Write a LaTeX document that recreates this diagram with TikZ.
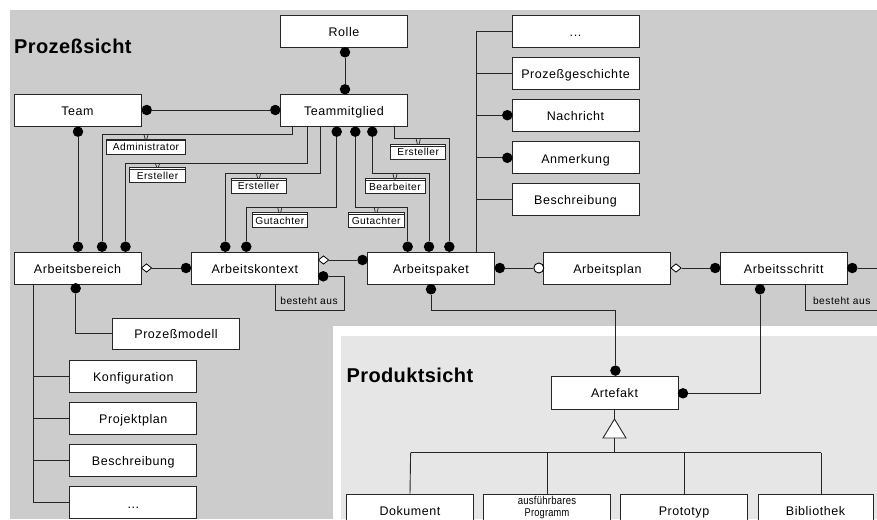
\documentclass[tikz,border=0pt]{standalone}
\usepackage{fontspec}
\usepackage{graphicx}
\setmainfont{Liberation Sans}
\newfontfamily\bxfam[LetterSpace=4.5]{Liberation Sans}
\newfontfamily\lbfam[LetterSpace=5]{Liberation Sans}
\newfontfamily\smfam[LetterSpace=2]{Liberation Sans}
\newfontfamily\ttlfam[LetterSpace=2]{Liberation Sans}
\newcommand\bxfont{\bxfam\fontsize{12.5}{14}\selectfont}
\newcommand\lbfont{\lbfam\fontsize{10.2}{12}\selectfont}
\newcommand\smfont{\smfam\fontsize{11.3}{13}\selectfont}
\newcommand\ttlfont{\ttlfam\bfseries\fontsize{20}{24}\selectfont}
\usetikzlibrary{shapes.geometric}
\definecolor{bgA}{HTML}{CCCCCC}
\definecolor{bgB}{HTML}{E6E6E6}
\newcommand\mklab[6]{%
  \node[lab, minimum width=#4] (#1) at (#2,#3) {#5};
  \draw[line width=0.6pt, black!85] ([yshift=-2pt]#1.north west) -- ([yshift=-2pt]#1.north east);
  \draw[mk] ({#2-2.2},{#6}) -- ({#2-0.8},{#3-7.3}) -- ({#2+0.8},{#3-7.3}) -- ({#2+2.2},{#6});
}
\begin{document}
\begin{tikzpicture}[x=1pt,y=-1pt,
  box/.style={draw=black!85, fill=white, line width=0.9pt, minimum width=127pt, minimum height=32pt, inner sep=0pt, text height=11.6pt, text depth=1pt, font=\bxfont},
  dot/.style={circle, fill=black, inner sep=0pt, minimum size=10.5pt},
  odot/.style={circle, draw=black, fill=white, line width=0.9pt, inner sep=0pt, minimum size=10pt},
  dia/.style={diamond, draw=black, fill=white, line width=0.8pt, inner sep=0pt, minimum width=10.5pt, minimum height=8.5pt},
  rel/.style={draw=black!85, line width=0.9pt},
  lab/.style={draw=black!85, fill=white, line width=0.8pt, inner sep=0pt, minimum height=15pt, text height=9.4pt, text depth=1pt, font=\lbfont},
  mk/.style={draw=black!85, line width=0.7pt},
  note/.style={font=\lbfont, inner sep=0pt, anchor=base}
]
\useasboundingbox (0,0) rectangle (877,519);
\clip (0,0) rectangle (877,519);
% backgrounds
\fill[white] (0,0) rectangle (877,519);
\fill[bgA] (10,10) rectangle (877,519);
\fill[white] (333,326) rectangle (877,519);
\fill[bgB] (341,336) rectangle (877,519);

% titles
\node[font=\ttlfont, anchor=base west, inner sep=0pt] (t1) at (14,53.3) {Prozeßsicht};
\node[font=\ttlfont, anchor=base west, inner sep=0pt] (t2) at (346.4,382.8) {Produktsicht};

% boxes
\node[box] (rolle) at (344,31.5) {Rolle};
\node[box] (tm) at (344,110) {Teammitglied};
\node[box] (team) at (77.5,110) {Team};
\node[box] (more1) at (575.5,31.3) {...};
\node[box] (pg) at (575.5,73.5) {Prozeßgeschichte};
\node[box] (nach) at (575.5,115.2) {Nachricht};
\node[box] (anm) at (575.5,157.8) {Anmerkung};
\node[box] (beschr1) at (575.5,199.5) {Beschreibung};
\node[box] (ab) at (77.5,268) {Arbeitsbereich};
\node[box] (ak) at (254.8,268) {Arbeitskontext};
\node[box] (ap) at (431,268) {Arbeitspaket};
\node[box] (apl) at (607.4,268) {Arbeitsplan};
\node[box] (as) at (783.7,268) {Arbeitsschritt};
\node[box, minimum height=31pt] (pm) at (176,333.5) {Prozeßmodell};
\node[box] (konf) at (133.3,376.3) {Konfiguration};
\node[box] (pp) at (133.3,418.3) {Projektplan};
\node[box] (beschr2) at (133.3,460.3) {Beschreibung};
\node[box] (more2) at (133.3,502.7) {...};
\node[box, minimum height=33pt] (art) at (614.5,392.5) {Artefakt};
\node[box, minimum height=33pt] (dok) at (410,510.5) {Dokument};
\node[box, minimum height=33pt] (ausf) at (547,510.5) {};
\node[font=\smfont, anchor=base, inner sep=0pt] (ausf1) at (547,504) {\scalebox{0.85}[1]{ausführbares}};
\node[font=\smfont, anchor=base, inner sep=0pt] (ausf2) at (547,516.2) {\scalebox{0.82}[1]{Programm}};
\node[box, minimum height=33pt] (proto) at (684,510.5) {Prototyp};
\node[box, minimum height=33pt, minimum width=115pt] (bib) at (815.5,510.5) {Bibliothek};

% dots
\node[dot] (dTeamE) at (146.7,110) {};
\node[dot] (dTmW) at (275.3,110) {};
\node[dot] (dRolleS) at (345,52.3) {};
\node[dot] (dTmN) at (345,89.3) {};
\node[dot] (dTeamS) at (78,131.7) {};
\node[dot] (dAb1) at (78,246.7) {};
\node[dot] (dAb2) at (102,246.7) {};
\node[dot] (dAb3) at (125.5,246.7) {};
\node[dot] (dAk1) at (225.3,246.7) {};
\node[dot] (dAk2) at (246.3,246.7) {};
\node[dot] (dTm1) at (336.7,131.7) {};
\node[dot] (dTm2) at (355.3,131.7) {};
\node[dot] (dTm3) at (372.3,131.7) {};
\node[dot] (dAp1) at (407.7,246.7) {};
\node[dot] (dAp2) at (429,246.7) {};
\node[dot] (dAp3) at (449.3,246.7) {};
\node[dot] (dNach) at (507.3,115.2) {};
\node[dot] (dAnm) at (507.3,157.8) {};
\node[dot] (dAkW) at (186,268) {};
\node[dot] (dApW) at (362.5,260) {};
\node[dot] (dAkLoop) at (323.3,276.3) {};
\node[dot] (dApE) at (499.8,268) {};
\node[odot] (oAplW) at (538.8,268) {};
\node[dot] (dAsW) at (715.2,268) {};
\node[dot] (dAsE) at (852.3,268) {};
\node[dot] (dApS) at (431,289.3) {};
\node[dot] (dArtN) at (615.4,370.6) {};
\node[dot] (dAsS) at (760,289.3) {};
\node[dot] (dArtE) at (683,393.3) {};
\node[dot] (dAbS) at (75.7,288.3) {};
\node[dia] (dmAb) at (146.5,268) {};
\node[dia] (dmAk) at (323.5,260) {};
\node[dia] (dmApl) at (676,268) {};

% coordinates
\coordinate (c1) at (292,134);
\coordinate (c2) at (307,163);
\coordinate (c3) at (320.5,173.3);
\coordinate (c4) at (300,207.3);
\coordinate (c5) at (380,173.3);
\coordinate (c6) at (394.3,138.3);
\coordinate (rv) at (476,31.3);
\coordinate (l1) at (344.3,310);
\coordinate (l2) at (275.7,310);
\coordinate (l3) at (805.7,310.3);
\coordinate (eR) at (877,268);
\coordinate (eR2) at (877,310.3);
\coordinate (l4) at (431,310);
\coordinate (tA) at (614.5,419);
\coordinate (tB) at (614.5,438);
\coordinate (hb) at (614.5,452.6);
\coordinate (hL) at (410.6,452.6);
\coordinate (hR) at (821,452.6);
\coordinate (bibTop) at (821,494);
\coordinate (lv) at (33.3,502.7);

% connectors top
\draw[rel] (dTeamE) -- (dTmW);
\draw[rel] (dRolleS) -- (dTmN);
\draw[rel] (dTeamS) -- (dAb1);
\draw[rel] (tm.south -| c1) -- (c1) -- (c1 -| dAb2) -- (dAb2);
\draw[rel] (tm.south -| c2) -- (c2) -- (c2 -| dAb3) -- (dAb3);
\draw[rel] (tm.south -| c3) -- (c3) -- (c3 -| dAk1) -- (dAk1);
\draw[rel] (dTm1) -- (dTm1 |- c4) -- (c4 -| dAk2) -- (dAk2);
\draw[rel] (dTm2) -- (dTm2 |- c4) -- (c4 -| dAp1) -- (dAp1);
\draw[rel] (dTm3) -- (dTm3 |- c5) -- (c5 -| dAp2) -- (dAp2);
\draw[rel] (tm.south -| c6) -- (c6) -- (c6 -| dAp3) -- (dAp3);

% role labels
\mklab{lAdm}{146}{146.5}{78.6pt}{Administrator}{134}
\mklab{lErs1}{157.5}{174.8}{56.4pt}{Ersteller}{163}
\mklab{lErs2}{258.5}{185.7}{55pt}{Ersteller}{173.3}
\mklab{lGut1}{279.8}{220}{55pt}{Gutachter}{207.3}
\mklab{lGut2}{376.2}{219.8}{55.7pt}{Gutachter}{207.3}
\mklab{lBea}{395}{186.2}{60pt}{Bearbeiter}{173.3}
\mklab{lErs3}{418.2}{151.7}{55pt}{Ersteller}{138.3}

% right column
\draw[rel] (ap.north -| rv) -- (rv) -- (more1.west);
\draw[rel] (pg.west -| rv) -- (pg.west);
\draw[rel] (nach.west -| rv) -- (dNach);
\draw[rel] (anm.west -| rv) -- (dAnm);
\draw[rel] (beschr1.west -| rv) -- (beschr1.west);

% row connectors
\draw[rel] (dmAb) -- (dAkW);
\draw[rel] (dmAk) -- (dApW);
\draw[rel] (dAkLoop) -- (dAkLoop -| l1) -- (l1) -- (l2) -- (l2 |- ak.south);
\node[note] (bA1) at (309,304.8) {besteht aus};
\draw[rel] (dApE) -- (oAplW);
\draw[rel] (dmApl) -- (dAsW);
\draw[rel] (dAsE) -- (eR);
\draw[rel] (l3 |- as.south) -- (l3) -- (eR2);
\node[note] (bA2) at (841.7,304.8) {besteht aus};

% to Artefakt
\draw[rel] (dApS) -- (l4) -- (l4 -| dArtN) -- (dArtN);
\draw[rel] (dAsS) -- (dAsS |- dArtE) -- (dArtE);

% generalization
\draw[rel] (art.south) -- (tA);
\draw[rel, fill=white] (tA) -- (626,438) -- (603,438) -- cycle;
\draw[rel] (tB) -- (hb);
\draw[rel] (hL) -- (hR);
\draw[rel] (hL) -- (dok.north);
\draw[rel] (hb -| ausf.north) -- (ausf.north);
\draw[rel] (hb -| proto.north) -- (proto.north);
\draw[rel] (hR) -- (bibTop);

% left bottom
\draw[rel] (dAbS) -- (dAbS |- pm.west) -- (pm.west);
\draw[rel] (ab.south -| lv) -- (lv) -- (more2.west);
\draw[rel] (konf.west -| lv) -- (konf.west);
\draw[rel] (pp.west -| lv) -- (pp.west);
\draw[rel] (beschr2.west -| lv) -- (beschr2.west);
\end{tikzpicture}
\end{document}
